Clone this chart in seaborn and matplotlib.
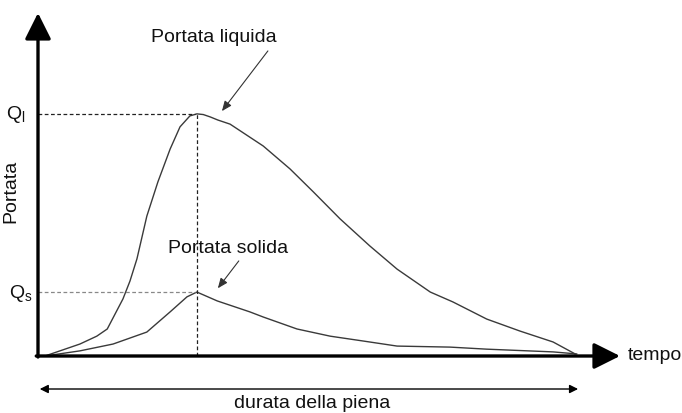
import matplotlib
matplotlib.use("Agg")
import matplotlib.pyplot as plt
import seaborn as sns
import pandas as pd

sns.set_theme(style="white")
plt.rcParams["font.family"] = ["Liberation Sans", "DejaVu Sans"]

# Data (time in arbitrary units 0-100, discharge in arbitrary units 0-100)
t_liquida = [1.2, 7.2, 10.1, 11.9, 14.6, 15.8, 17.0, 18.7, 20.6, 22.7, 24.4, 25.3, 26.1, 27.3,
             28.4, 29.6, 30.9, 33.0, 38.7, 43.3, 47.3, 51.9, 57.0, 61.7, 67.4, 71.3, 77.1,
             82.8, 88.5, 92.3]
q_liquida = [0.0, 3.5, 5.8, 7.9, 16.7, 21.9, 28.4, 40.9, 50.9, 60.5, 67.0, 68.7, 70.2, 70.8,
             70.6, 69.9, 69.0, 67.8, 61.4, 54.7, 48.0, 40.1, 32.2, 25.4, 18.7, 15.8, 10.8,
             7.3, 4.1, 0.6]
t_solida = [1.2, 7.2, 12.9, 18.7, 22.7, 25.6, 27.3, 30.8, 36.4, 38.7, 44.5, 50.2, 55.8, 61.7,
            70.8, 77.1, 88.5, 92.6]
q_solida = [0.0, 1.5, 3.5, 7.0, 12.9, 17.3, 18.7, 16.1, 12.9, 11.4, 7.9, 5.8, 4.4, 2.9,
            2.6, 2.0, 1.2, 0.6]
t_peak = 27.3
q_l_peak = 70.8
q_s_peak = 18.7
t_end = 92.8
labels = {"liquida": "Portata liquida", "solida": "Portata solida"}

df_l = pd.DataFrame({"t": t_liquida, "q": q_liquida})
df_s = pd.DataFrame({"t": t_solida, "q": q_solida})

fig = plt.figure(figsize=(6.82, 4.14), dpi=100)
ax = fig.add_axes([0, 0, 1, 1])
ax.set_xlim(-38 / 5.82, (682 - 38) / 5.82)
ax.set_ylim(-(414 - 357) / 3.42, 357 / 3.42)
ax.axis("off")

sns.lineplot(data=df_l, x="t", y="q", ax=ax, sort=False, estimator=None, color="#3a3a3a", lw=1.0)
sns.lineplot(data=df_s, x="t", y="q", ax=ax, sort=False, estimator=None, color="#3a3a3a", lw=1.0)

# reference dashed lines
ax.plot([0, t_peak - 0.4], [q_l_peak, q_l_peak], ls=(0, (3, 2)), color="#222222", lw=0.9)
ax.plot([0, t_peak - 0.4], [q_s_peak, q_s_peak], ls=(0, (3, 2)), color="#888888", lw=0.9)
ax.plot([t_peak, t_peak], [0, q_l_peak], ls=(0, (3, 2)), color="#222222", lw=0.9)

# axes arrows
arrow_kw = dict(arrowstyle="-|>,head_length=0.4,head_width=0.2", mutation_scale=40,
                lw=2.4, color="black", shrinkA=0, shrinkB=0)
ax.annotate("", xy=(0, 100.3), xytext=(0, -0.3), arrowprops=arrow_kw)
ax.annotate("", xy=(100, 0), xytext=(-0.3, 0), arrowprops=arrow_kw)

fs = 14
ax.text(101.4, 0.3, "tempo", fontsize=fs, va="center", ha="left", color="#111111")
ax.text(-4.7, 48.5, "Portata", fontsize=fs, rotation=90, va="center", ha="center", color="#111111")
ax.text(-2.2, q_l_peak, r"Q$_{\mathregular{l}}$", fontsize=fs, va="center", ha="right", color="#111111")
ax.text(-1.0, q_s_peak, r"Q$_{\mathregular{s}}$", fontsize=fs, va="center", ha="right", color="#111111")

# duration arrow
ax.annotate("", xy=(0.3, -9.65), xytext=(t_end, -9.65),
            arrowprops=dict(arrowstyle="<|-|>,head_length=0.5,head_width=0.25", mutation_scale=10,
                            lw=1.0, color="black", shrinkA=0, shrinkB=0))
ax.text(47.1, -13.6, "durata della piena", fontsize=fs, ha="center", va="center", color="#111111")

# callouts
call_kw = dict(arrowstyle="-|>,head_length=0.6,head_width=0.25", mutation_scale=10,
               lw=0.8, color="#333333", shrinkA=0, shrinkB=0)
ax.text(30.2, 93.3, labels["liquida"], fontsize=fs, ha="center", va="center", color="#111111")
ax.annotate("", xy=(31.6, 71.6), xytext=(39.5, 89.2), arrowprops=call_kw)
ax.text(32.6, 31.6, labels["solida"], fontsize=fs, ha="center", va="center", color="#111111")
ax.annotate("", xy=(30.9, 19.8), xytext=(34.5, 27.8), arrowprops=call_kw)

fig.savefig("out.png", dpi=100)
